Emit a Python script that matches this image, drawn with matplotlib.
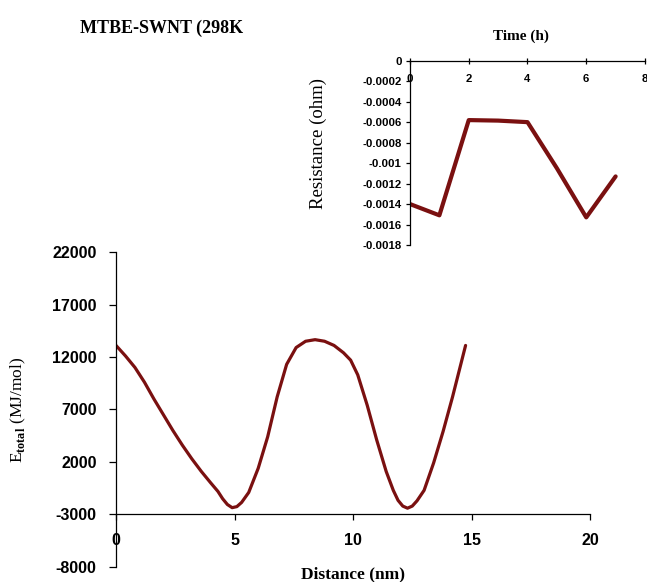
import matplotlib
matplotlib.use("Agg")
import matplotlib.pyplot as plt

plt.rcParams["axes.unicode_minus"] = False
plt.rcParams["mathtext.fontset"] = "custom"
plt.rcParams["mathtext.rm"] = "Liberation Serif"
plt.rcParams["mathtext.bf"] = "Liberation Serif:bold"

LINE = "#7a1010"
SERIF = "Liberation Serif"
SANS = "Liberation Sans"

# main curve: total energy vs distance
dist = [0.0, 0.4, 0.8, 1.2, 1.6, 2.0, 2.4, 2.8, 3.2, 3.6, 4.0, 4.3, 4.5, 4.7, 4.9,
        5.1, 5.3, 5.6, 6.0, 6.4, 6.8, 7.2, 7.6, 8.0, 8.4, 8.8, 9.2, 9.6, 9.9, 10.2,
        10.6, 11.0, 11.4, 11.7, 11.9, 12.1, 12.3, 12.5, 12.7, 13.0, 13.4, 13.8,
        14.2, 14.75]
etotal = [13100, 12100, 11000, 9600, 8000, 6500, 5000, 3600, 2300, 1100, 0, -800,
          -1500, -2050, -2350, -2250, -1850, -900, 1400, 4400, 8200, 11300, 12900,
          13500, 13650, 13500, 13100, 12400, 11700, 10300, 7400, 4100, 1100, -700,
          -1650, -2200, -2400, -2200, -1700, -700, 1900, 4900, 8200, 13100]

# inset: resistance vs time
hours = [0, 1, 2, 3, 4, 5, 6, 7]
resist = [-0.00140, -0.00151, -0.00058, -0.000585, -0.00060, -0.00105, -0.00153, -0.00113]

fig = plt.figure(figsize=(6.47, 5.82), dpi=100)

# ---- main axes --------------------------------------------------------------
ax = fig.add_axes([0.1793, 0.0258, 0.7326, 0.5412])
ax.plot(dist, etotal, color=LINE, lw=2.3, solid_capstyle="round", solid_joinstyle="round")
ax.set_xlim(0, 20)
ax.set_ylim(-8000, 22000)
ax.set_xticks([0, 5, 10, 15, 20])
ax.set_yticks([-8000, -3000, 2000, 7000, 12000, 17000, 22000])
ax.spines["bottom"].set_position(("data", -3000))
ax.spines[["top", "right"]].set_visible(False)
for s in ("left", "bottom"):
    ax.spines[s].set_linewidth(0.9)
ax.tick_params(axis="x", direction="out", length=4, width=0.9, pad=9)
ax.tick_params(axis="y", direction="out", length=5, width=0.9, pad=9)
for lab in ax.get_xticklabels() + ax.get_yticklabels():
    lab.set_fontfamily(SANS)
    lab.set_fontweight("bold")
    lab.set_fontsize(11.5)
ax.text(0.5, -0.024, "Distance (nm)", transform=ax.transAxes, ha="center", va="center",
        family=SERIF, fontsize=12.5, fontweight="bold")
ax.text(-0.205, 0.5, r"E$_{\mathbf{total}}$ (MJ/mol)", transform=ax.transAxes,
        rotation=90, ha="center", va="center", family=SERIF, fontsize=12.5)

# ---- inset ------------------------------------------------------------------
ins = fig.add_axes([0.6337, 0.579, 0.3632, 0.3167])
ins.plot(hours, resist, color=LINE, lw=3.0, solid_capstyle="round")
ins.set_xlim(0, 8)
ins.set_ylim(-0.0018, 0)
ins.set_xticks([0, 2, 4, 6, 8])
ins.set_yticks([-0.0018, -0.0016, -0.0014, -0.0012, -0.001, -0.0008, -0.0006,
                -0.0004, -0.0002, 0])
ins.set_yticklabels(["-0.0018", "-0.0016", "-0.0014", "-0.0012", "-0.001", "-0.0008",
                     "-0.0006", "-0.0004", "-0.0002", "0"])
ins.spines["bottom"].set_position(("data", 0))
ins.spines[["top", "right"]].set_visible(False)
for s in ("left", "bottom"):
    ins.spines[s].set_linewidth(0.9)
ins.tick_params(axis="x", direction="inout", length=5, width=0.9, pad=7)
ins.tick_params(axis="y", direction="out", length=3, width=0.9, pad=3)
for lab in ins.get_xticklabels() + ins.get_yticklabels():
    lab.set_fontfamily(SANS)
    lab.set_fontweight("bold")
    lab.set_fontsize(8.2)
ins.text(0.47, 1.13, "Time (h)", transform=ins.transAxes, ha="center", va="center",
         family=SERIF, fontsize=11, fontweight="bold")
ins.text(-0.39, 0.55, "Resistance (ohm)", transform=ins.transAxes, rotation=90,
         ha="center", va="center", family=SERIF, fontsize=13.5)

fig.text(80 / 647, 1 - 28 / 582, "MTBE-SWNT (298K", ha="left", va="center",
         family=SERIF, fontsize=13, fontweight="bold")

fig.savefig("out.png", dpi=100)
